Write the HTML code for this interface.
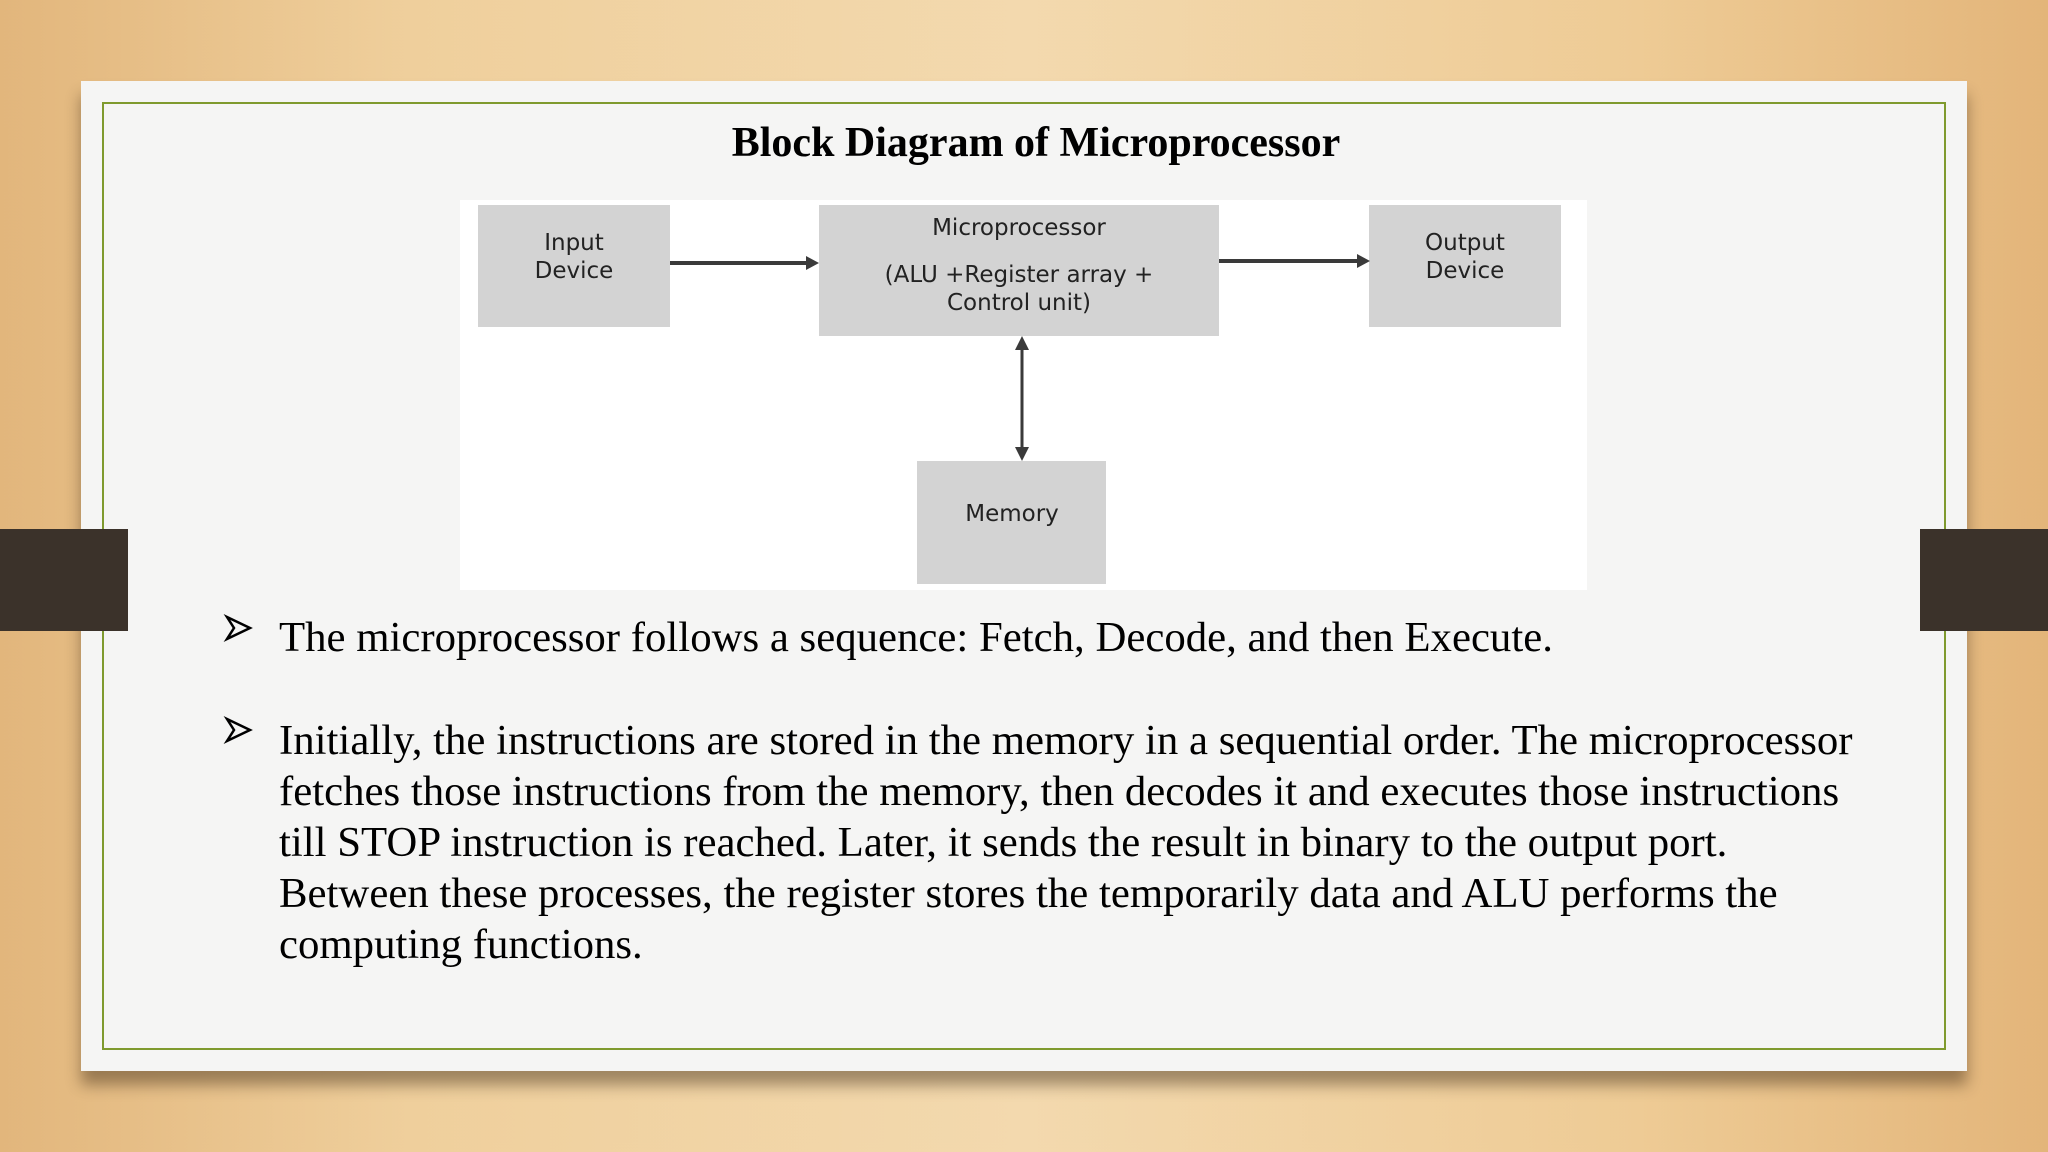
<!DOCTYPE html>
<html><head><meta charset="utf-8"><style>
html,body{margin:0;padding:0}
body{width:2048px;height:1152px;position:relative;overflow:hidden;
background:linear-gradient(90deg,#e2b67c 0%,#efcf9c 20%,#f3d9ae 50%,#eecb95 80%,#e3b57a 100%);}
.card{position:absolute;left:81px;top:81px;width:1886px;height:990px;background:#f5f5f4;box-shadow:0 14px 14px rgba(60,40,20,.45);}
.border{position:absolute;left:102px;top:102px;width:1840px;height:944px;border:2px solid #7f9a2e;}
.tab{position:absolute;top:529px;width:128px;height:102px;background:#3b322a;}
.t{position:absolute;font-family:"Liberation Serif",serif;color:#000;white-space:nowrap}
.box{position:absolute;background:#d3d3d3;}
.bl{position:absolute;font-family:"DejaVu Sans","Liberation Sans",sans-serif;font-size:23px;color:#222;text-align:center;line-height:28px;white-space:nowrap}
</style></head><body>
<div class="card"></div>
<div class="border"></div>
<div class="tab" style="left:0"></div>
<div class="tab" style="left:1920px"></div>
<div class="t" style="left:0;width:2072px;text-align:center;top:119px;font-size:42px;font-weight:bold">Block Diagram of Microprocessor</div>
<div style="position:absolute;left:460px;top:200px;width:1127px;height:390px;background:#fff"></div>
<div class="box" style="left:478px;top:205px;width:192px;height:122px"></div>
<div class="box" style="left:819px;top:205px;width:400px;height:131px"></div>
<div class="box" style="left:1369px;top:205px;width:192px;height:122px"></div>
<div class="box" style="left:917px;top:461px;width:189px;height:123px"></div>
<div class="bl" style="left:478px;width:192px;top:229px">Input<br>Device</div>
<div class="bl" style="left:1369px;width:192px;top:229px">Output<br>Device</div>
<div class="bl" style="left:819px;width:400px;top:214px">Microprocessor</div>
<div class="bl" style="left:819px;width:400px;top:261px">(ALU +Register array +<br>Control unit)</div>
<div class="bl" style="left:908px;width:208px;top:500px">Memory</div>
<svg style="position:absolute;left:0;top:0" width="2048" height="1152">
<g stroke="#3a3a3a" stroke-width="4" fill="#3a3a3a">
<line x1="670" y1="263" x2="808" y2="263"/><polygon points="819,263 806,256 806,270" stroke="none"/>
<line x1="1219" y1="261" x2="1358" y2="261"/><polygon points="1370,261 1357,254 1357,268" stroke="none"/>
<line x1="1022" y1="346" x2="1022" y2="451" stroke-width="3"/>
<polygon points="1022,336 1015,350 1029,350" stroke="none"/>
<polygon points="1022,461 1015,447 1029,447" stroke="none"/>
</g>
<g fill="none" stroke="#000" stroke-width="2.5" stroke-linejoin="miter">
<path d="M227,617 L250,628 L227,639 L234,628 Z"/>
<path d="M227,719 L250,730 L227,741 L234,730 Z"/>
</g></svg>
<div class="t" style="left:279px;top:613px;font-size:42.8px;line-height:50px">The microprocessor follows a sequence: Fetch, Decode, and then Execute.</div>
<div class="t" style="left:279px;top:715px;font-size:42.8px;line-height:51px">Initially, the instructions are stored in the memory in a sequential order. The microprocessor<br>fetches those instructions from the memory, then decodes it and executes those instructions<br>till STOP instruction is reached. Later, it sends the result in binary to the output port.<br>Between these processes, the register stores the temporarily data and ALU performs the<br>computing functions.</div>
</body></html>
